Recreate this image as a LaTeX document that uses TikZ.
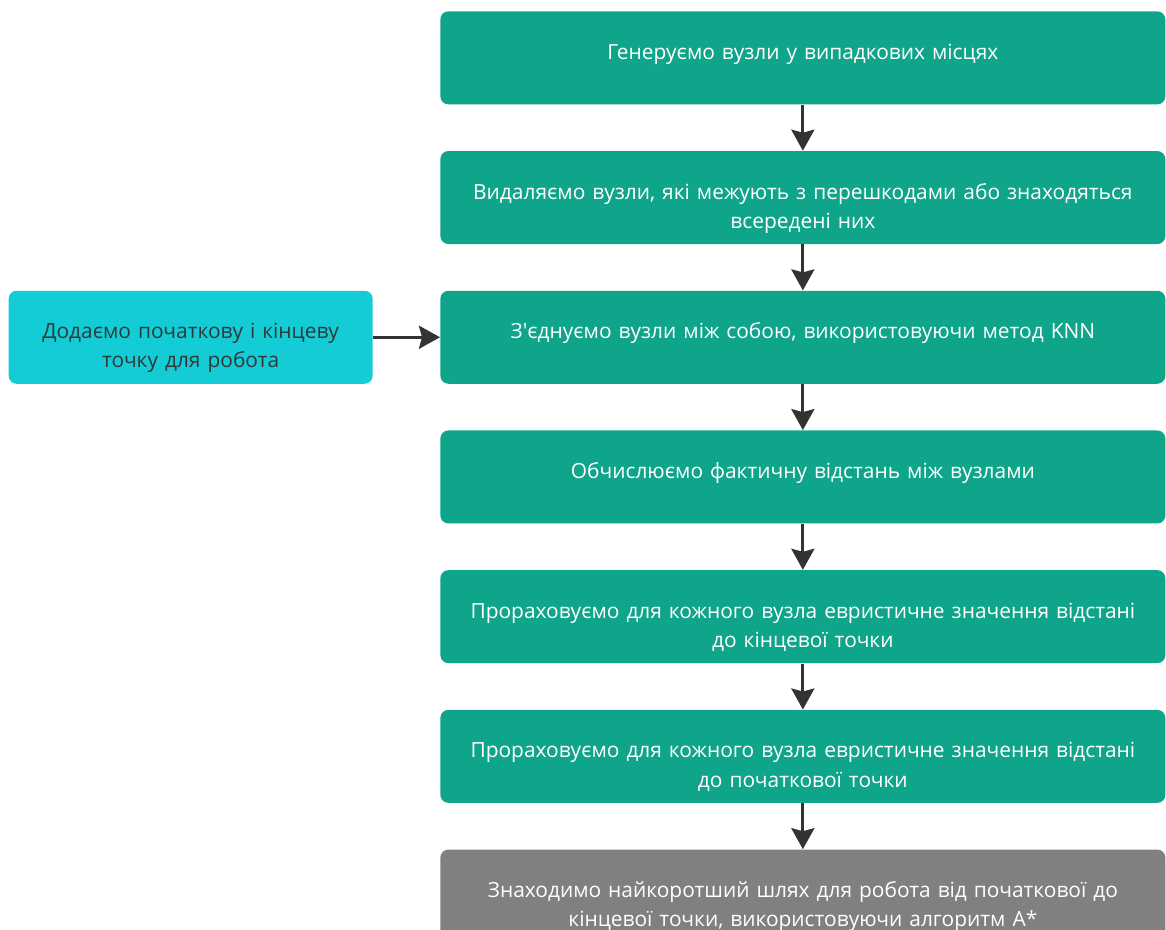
\documentclass[tikz,border=0pt]{standalone}
\usepackage{fontspec}
\setmainfont{Open Sans}
\usetikzlibrary{positioning,arrows.meta}

\definecolor{stepgreen}{HTML}{0EA58A}
\definecolor{inputcyan}{HTML}{14CCD6}
\definecolor{resultgray}{HTML}{808080}
\definecolor{arrowgray}{HTML}{333333}
\definecolor{darktext}{HTML}{2E3A3A}

\tikzstyle{every node}=[inner sep=0pt,font=\fontsize{11.9}{16.6}\selectfont]
\tikzstyle{box}=[rounded corners=0.16cm,align=center,text height=0.96cm,text depth=0.9cm]
\tikzstyle{stepbox}=[box,fill=stepgreen,text=white,text width=14.5cm]
\tikzstyle{lastbox}=[box,fill=resultgray,text=white,text width=14.5cm]
\tikzstyle{sidebox}=[box,fill=inputcyan,text=darktext,text width=7.28cm]
\tikzstyle{arr}=[draw=arrowgray,line width=0.06cm,-{Stealth[length=0.42cm,width=0.46cm,inset=0.06cm]}]

\begin{document}
\begin{tikzpicture}
  \useasboundingbox (0,0) rectangle (23.32,-18.6);

  % main chain of steps
  \node[stepbox,anchor=north west] (gen) at (8.8,-0.22)
    {Генеруємо вузли у випадкових місцях};
  \node[stepbox,below=0.92cm of gen] (del)
    {Видаляємо вузли, які межують з перешкодами або знаходяться\\всередені них};
  \node[stepbox,below=0.92cm of del] (knn)
    {З\textquotesingle єднуємо вузли між собою, використовуючи метод KNN};
  \node[stepbox,below=0.92cm of knn] (dist)
    {Обчислюємо фактичну відстань між вузлами};
  \node[stepbox,below=0.92cm of dist] (hend)
    {Прораховуємо для кожного вузла евристичне значення відстані\\до кінцевої точки};
  \node[stepbox,below=0.92cm of hend] (hstart)
    {Прораховуємо для кожного вузла евристичне значення відстані\\до початкової точки};
  \node[lastbox,below=0.92cm of hstart] (astar)
    {Знаходимо найкоротший шлях для робота від початкової до\\кінцевої точки, використовуючи алгоритм A*};

  % start and goal go in beside the KNN step
  \node[sidebox,left=1.34cm of knn] (ends)
    {Додаємо початкову і кінцеву\\точку для робота};

  \draw[arr] (gen) -- (del);
  \draw[arr] (del) -- (knn);
  \draw[arr] (knn) -- (dist);
  \draw[arr] (dist) -- (hend);
  \draw[arr] (hend) -- (hstart);
  \draw[arr] (hstart) -- (astar);
  \draw[arr] (ends) -- (knn);

\end{tikzpicture}
\end{document}
